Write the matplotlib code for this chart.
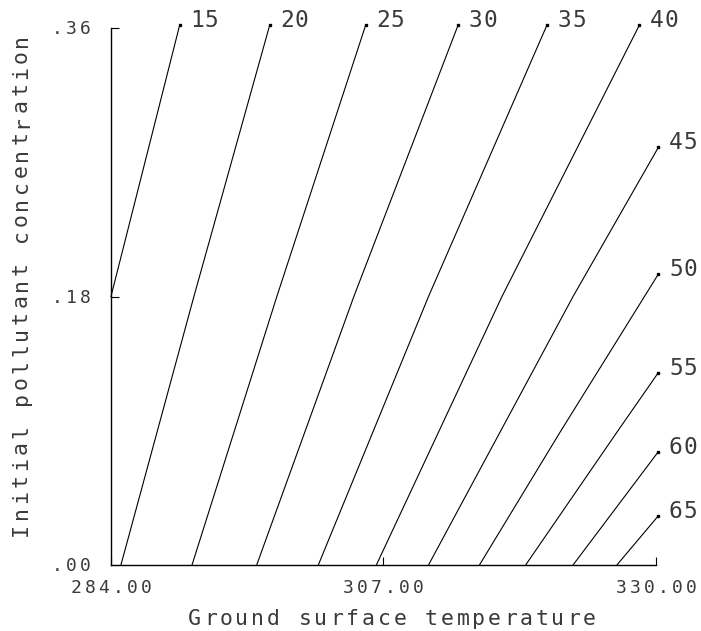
import matplotlib
matplotlib.use("Agg")
import matplotlib.pyplot as plt

# contour levels and their traced points (temperature, concentration)
levels = ['.15', '.20', '.25', '.30', '.35', '.40', '.45', '.50', '.55', '.60', '.65']
line_temp = [
    [284.0, 289.8],
    [284.84, 291.0, 297.4],
    [290.84, 298.0, 305.5],
    [296.3, 304.5, 313.3],
    [301.5, 310.8, 320.8],
    [306.4, 317.0, 328.6],
    [310.8, 323.0, 330.2],
    [315.1, 321.9, 330.2],
    [319.0, 326.7, 330.2],
    [323.0, 330.2],
    [326.7, 330.2],
]
line_conc = [
    [0.180, 0.362],
    [0.0, 0.180, 0.362],
    [0.0, 0.180, 0.362],
    [0.0, 0.180, 0.362],
    [0.0, 0.180, 0.362],
    [0.0, 0.180, 0.362],
    [0.0, 0.180, 0.280],
    [0.0, 0.089, 0.195],
    [0.0, 0.089, 0.129],
    [0.0, 0.076],
    [0.0, 0.033],
]

x_ticks = [284, 307, 330]
x_tick_labels = ['284.00', '307.00', '330.00']
y_ticks = [0.0, 0.18, 0.36]
y_tick_labels = ['.00', '.18', '.36']

FONT = 'DejaVu Sans Mono'
INK = '#3a3a3a'

fig = plt.figure(figsize=(7.01, 6.31), dpi=100)
ax = fig.add_axes([0.1583, 0.1046, 0.7775, 0.851])


def spaced(text, xy, xycoords, start, pitch, size, dx=0, dy=0, rotation=0):
    # plotter-style text: one character per cell, fixed pitch in pixels
    for i, ch in enumerate(text):
        if ch == ' ':
            continue
        off = start + i * pitch
        if rotation == 0:
            tx, ty = dx + off, dy
        else:
            tx, ty = dx, dy + off
        ax.annotate(ch, xy, xycoords=xycoords, xytext=(tx, ty),
                    textcoords='offset pixels', ha='center', va='baseline',
                    rotation=rotation, rotation_mode='anchor',
                    fontsize=size, family=FONT, color=INK,
                    annotation_clip=False)


for lab, t, c in zip(levels, line_temp, line_conc):
    ax.plot(t, c, color='black', lw=0.8, clip_on=False)
    ax.plot(t[-1], c[-1], marker='s', ms=2.0, color='black', clip_on=False)
    spaced(lab[1:], (t[-1], c[-1]), 'data', 17.5, 14.5, 16.5, dy=-2)

ax.set_xlim(284, 330)
ax.set_ylim(0, 0.36)
ax.spines['top'].set_visible(False)
ax.spines['right'].set_visible(False)
for s in ('left', 'bottom'):
    ax.spines[s].set_linewidth(1.0)
ax.set_xticks(x_ticks)
ax.set_yticks(y_ticks)
ax.tick_params(direction='in', length=5.8, width=0.8,
               labelbottom=False, labelleft=False)

for v, lab in zip(x_ticks, x_tick_labels):
    spaced(lab, (v, 0), ax.get_xaxis_transform(),
           -(len(lab) - 1) / 2 * 14.0, 14.0, 13, dy=-28)
for v, lab in zip(y_ticks, y_tick_labels):
    spaced(lab, (0, v), ax.get_yaxis_transform(),
           -26 - (len(lab) - 1) * 13.8, 13.8, 13, dy=-6)

xlabel = 'Ground surface temperature'
spaced(xlabel, (0.5, 0), 'axes fraction',
       -(len(xlabel) - 1) / 2 * 15.8, 15.8, 15.5, dx=8.5, dy=-60)

ylabel = 'Initial pollutant concentration'
spaced(ylabel, (0, 0.5), 'axes fraction',
       -(len(ylabel) - 1) / 2 * 16.3, 16.3, 15.5, dx=-84, dy=12, rotation=90)

fig.savefig('out.png', dpi=100)
